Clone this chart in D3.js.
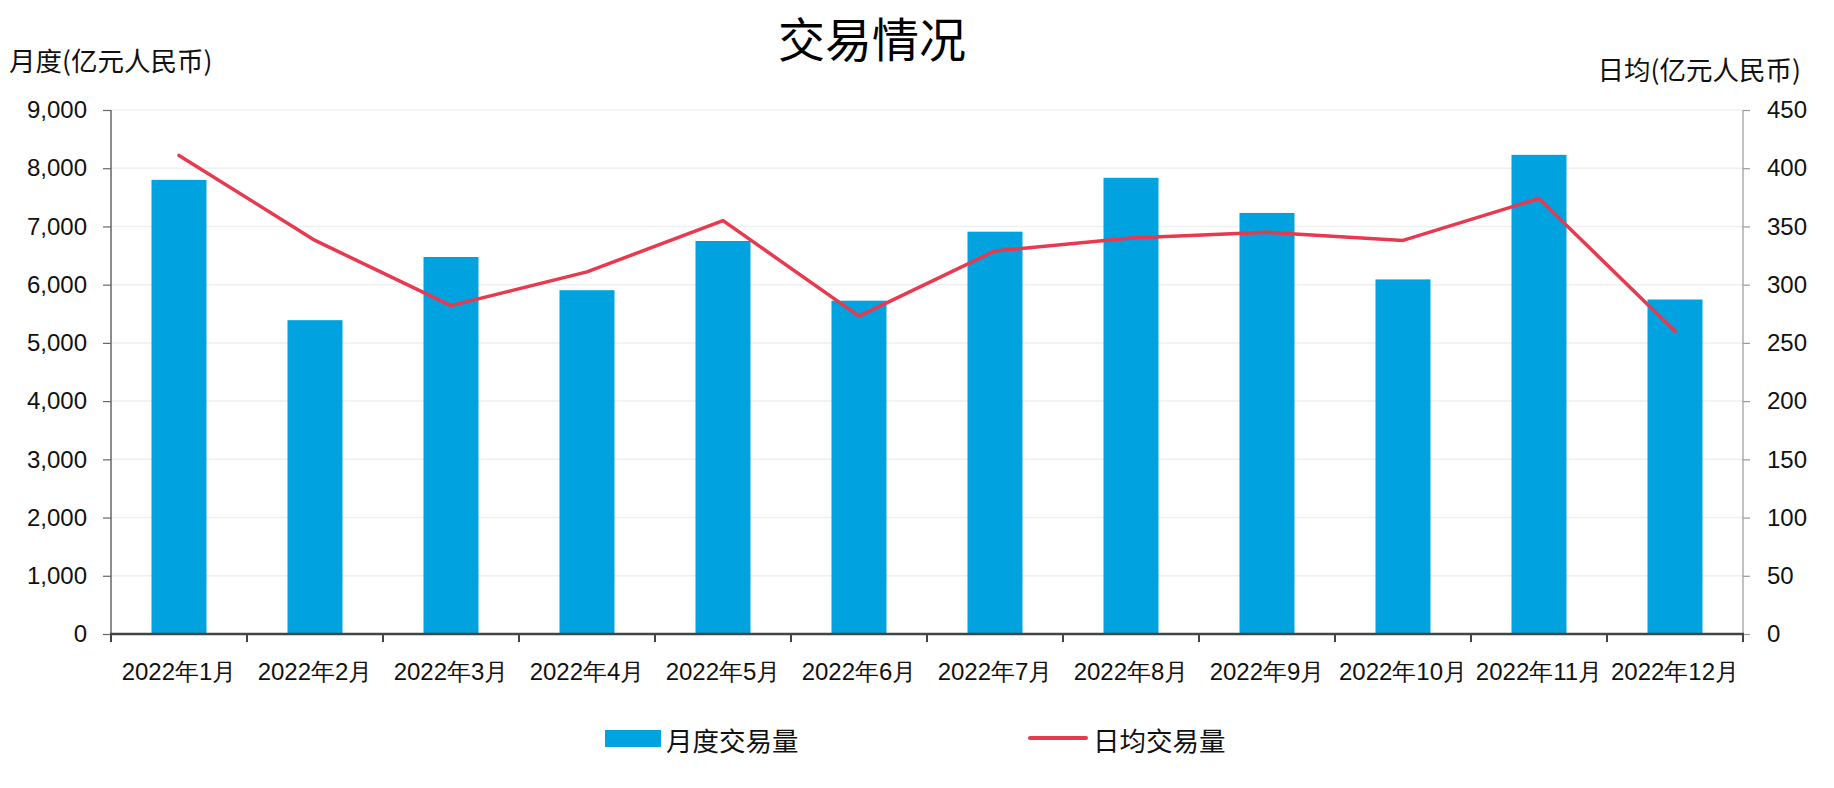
<!DOCTYPE html>
<html><head><meta charset="utf-8">
<script src="https://cdn.jsdelivr.net/npm/d3@7"></script>
<style>
html,body{margin:0;padding:0;background:#fff;}
svg{display:block;font-family:"Microsoft YaHei","Noto Sans CJK SC",sans-serif;}
</style></head><body>
<svg id="c" width="1834" height="788"></svg>
<script>
const categories = ["2022年1月","2022年2月","2022年3月","2022年4月","2022年5月","2022年6月","2022年7月","2022年8月","2022年9月","2022年10月","2022年11月","2022年12月"];
const monthlyVolume = [7800, 5390, 6475, 5905, 6750, 5725, 6910, 7835, 7232, 6090, 8230, 5745];
const dailyVolume = [411, 338, 282, 311, 355, 273, 329, 340, 345, 338, 374, 260];
const leftTicks = [0,1000,2000,3000,4000,5000,6000,7000,8000,9000];
const rightTicks = [0,50,100,150,200,250,300,350,400,450];
const seriesNames = ["月度交易量","日均交易量"];
const titleText = "交易情况";
const leftTitle = "月度(亿元人民币)";
const rightTitle = "日均(亿元人民币)";

const barColor = "#00a2df", lineColor = "#e8394f";
const svg = d3.select("#c");
const L = 111, R = 1743, T = 110, B = 634;

const xc = d3.scaleBand().domain(categories).range([L, R]);
const yL = d3.scaleLinear().domain([0, 9000]).range([B, T]);
const yR = d3.scaleLinear().domain([0, 450]).range([B, T]);

// gridlines
svg.append("g").selectAll("line").data(leftTicks.filter(d=>d>0)).join("line")
  .attr("x1", L).attr("x2", R).attr("y1", d=>yL(d)).attr("y2", d=>yL(d))
  .attr("stroke", "#efefef").attr("stroke-width", 1.5);

// bars
svg.append("g").selectAll("rect").data(monthlyVolume).join("rect")
  .attr("x", (d,i)=>xc(categories[i]) + xc.bandwidth()/2 - 27.5)
  .attr("width", 55)
  .attr("y", d=>yL(d)).attr("height", d=>B - yL(d))
  .attr("fill", barColor);

// line
const line = d3.line().x((d,i)=>xc(categories[i]) + xc.bandwidth()/2).y(d=>yR(d));
svg.append("path").datum(dailyVolume).attr("d", line)
  .attr("fill","none").attr("stroke", lineColor).attr("stroke-width", 3.5)
  .attr("stroke-linejoin","round").attr("stroke-linecap","round");

// left axis
const gl = svg.append("g").attr("transform", `translate(${L},0)`)
  .call(d3.axisLeft(yL).tickValues(leftTicks).tickFormat(d3.format(",")).tickSize(8).tickPadding(16));
gl.select(".domain").attr("stroke","#666").attr("stroke-width",1.5).attr("d", `M0,${T}V${B}`);
gl.selectAll(".tick line").attr("stroke","#666").attr("stroke-width",1.2);
gl.selectAll("text").attr("font-size", 24).attr("fill","#111").attr("font-family","inherit");

// right axis
const gr = svg.append("g").attr("transform", `translate(${R},0)`)
  .call(d3.axisRight(yR).tickValues(rightTicks).tickSize(7).tickPadding(17));
gr.select(".domain").attr("stroke","#999").attr("stroke-width",1.2).attr("d", `M0,${T}V${B}`);
gr.selectAll(".tick line").attr("stroke","#999").attr("stroke-width",1.2);
gr.selectAll("text").attr("font-size", 24).attr("fill","#111").attr("font-family","inherit");

// bottom axis
const gb = svg.append("g").attr("transform", `translate(0,${B})`)
  .call(d3.axisBottom(xc).tickSize(0).tickPadding(29));
gb.select(".domain").remove();
gb.selectAll("text").attr("font-size", 24).attr("fill","#111").attr("font-family","inherit");
svg.append("line").attr("x1", L-1).attr("x2", R+1).attr("y1", B).attr("y2", B)
  .attr("stroke","#444").attr("stroke-width",2.5);
const bounds = categories.map(c=>xc(c)).concat([R]);
svg.append("g").selectAll("line").data(bounds).join("line")
  .attr("x1", d=>d).attr("x2", d=>d).attr("y1", B).attr("y2", B+8)
  .attr("stroke","#444").attr("stroke-width",2);

// titles
svg.append("text").attr("x", 872).attr("y", 36).attr("text-anchor","middle").attr("dominant-baseline","central")
  .attr("font-size", 47).attr("fill","#000").text(titleText);
svg.append("text").attr("x", 9).attr("y", 59).attr("dominant-baseline","central")
  .attr("font-size", 26.5).attr("fill","#111").text(leftTitle);
svg.append("text").attr("x", 1801).attr("y", 68).attr("text-anchor","end").attr("dominant-baseline","central")
  .attr("font-size", 26.5).attr("fill","#111").text(rightTitle);

// legend
const lg = svg.append("g");
lg.append("rect").attr("x", 605).attr("y", 730).attr("width", 56).attr("height", 17).attr("fill", barColor);
lg.append("text").attr("x", 666).attr("y", 739).attr("dominant-baseline","central").attr("font-size", 26.5).attr("fill","#111").text(seriesNames[0]);
lg.append("line").attr("x1", 1030).attr("x2", 1086).attr("y1", 738).attr("y2", 738).attr("stroke", lineColor).attr("stroke-width", 4).attr("stroke-linecap","round");
lg.append("text").attr("x", 1093).attr("y", 739).attr("dominant-baseline","central").attr("font-size", 26.5).attr("fill","#111").text(seriesNames[1]);
</script></body></html>
